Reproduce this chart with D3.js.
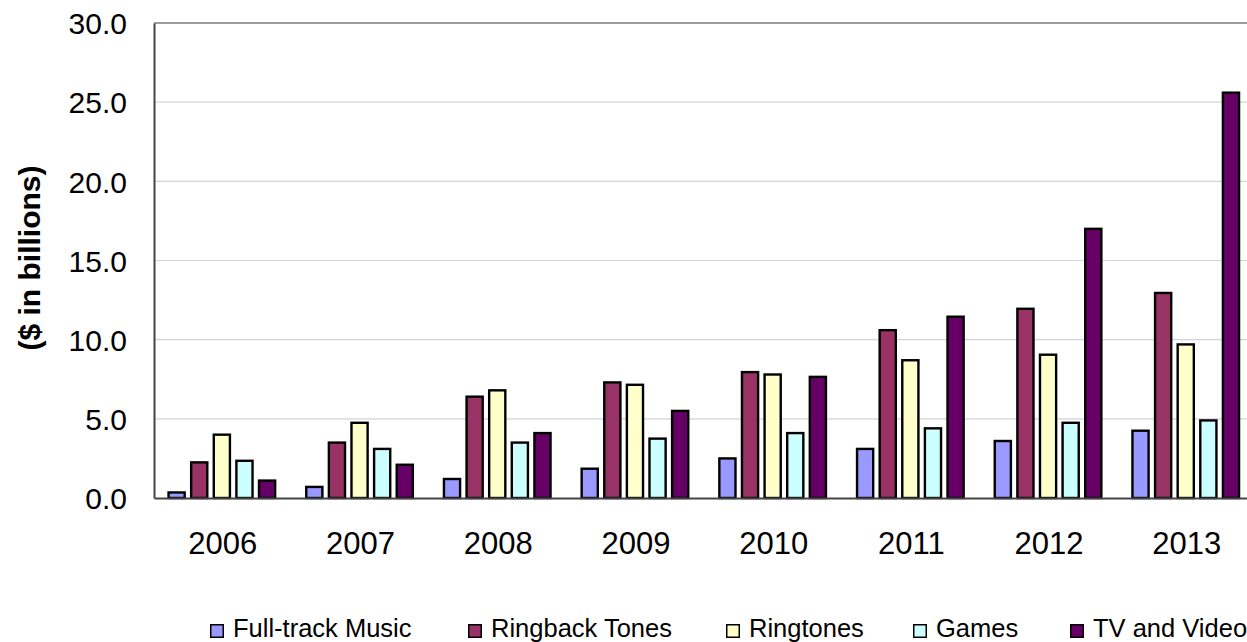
<!DOCTYPE html>
<html>
<head>
<meta charset="utf-8">
<script src="https://cdn.jsdelivr.net/npm/d3@7"></script>
<style>
  body { margin: 0; background: #fff; }
  svg { display: block; font-family: Arial, "Liberation Sans", sans-serif; }
</style>
</head>
<body>
<svg id="chart" width="1247" height="642"></svg>
<script>
// data
var years = ["2006", "2007", "2008", "2009", "2010", "2011", "2012", "2013"];
var seriesNames = ["Full-track Music", "Ringback Tones", "Ringtones", "Games", "TV and Video"];
var seriesColors = ["#9999FF", "#993366", "#FFFFCC", "#CCFFFF", "#660066"];
var fullTrack = [0.35, 0.7, 1.2, 1.85, 2.5, 3.1, 3.6, 4.25];
var ringback = [2.25, 3.5, 6.4, 7.3, 7.95, 10.6, 11.95, 12.95];
var ringtones = [4.0, 4.75, 6.8, 7.15, 7.8, 8.7, 9.05, 9.7];
var games = [2.35, 3.1, 3.5, 3.75, 4.1, 4.4, 4.75, 4.9];
var tvVideo = [1.1, 2.1, 4.1, 5.5, 7.65, 11.45, 17.0, 25.6];
var yTicks = [0, 5, 10, 15, 20, 25, 30];

var allSeries = [fullTrack, ringback, ringtones, games, tvVideo];

var svg = d3.select("#chart");

var plotLeft = 154, plotTop = 23, plotBottom = 498;
var bandStep = 137.7;

var x = d3.scaleBand()
  .domain(years)
  .range([plotLeft, plotLeft + bandStep * years.length]);

var groupWidth = 109;
var xInner = d3.scaleBand()
  .domain(seriesNames)
  .range([-groupWidth / 2 - 1, groupWidth / 2 - 1])
  .paddingInner(0.18);

var y = d3.scaleLinear().domain([0, 30]).range([plotBottom, plotTop]);

// gridlines
svg.append("g")
  .selectAll("line")
  .data(yTicks.filter(function (d) { return d > 0 && d < 30; }))
  .join("line")
  .attr("x1", plotLeft)
  .attr("x2", 1247)
  .attr("y1", function (d) { return y(d); })
  .attr("y2", function (d) { return y(d); })
  .style("stroke", "#d4d4d4")
  .style("stroke-width", 1.2);

// top border of plot area
svg.append("line")
  .attr("x1", plotLeft).attr("x2", 1247)
  .attr("y1", y(30)).attr("y2", y(30))
  .style("stroke", "#7a7a7a")
  .style("stroke-width", 1.5);

// bars
var rows = [];
years.forEach(function (yr, i) {
  seriesNames.forEach(function (s, j) {
    rows.push({ year: yr, series: s, value: allSeries[j][i], color: seriesColors[j] });
  });
});

svg.append("g")
  .selectAll("rect")
  .data(rows)
  .join("rect")
  .attr("x", function (d) { return x(d.year) + x.bandwidth() / 2 + xInner(d.series) + 1.2; })
  .attr("width", xInner.bandwidth() - 2.4)
  .attr("y", function (d) { return y(d.value); })
  .attr("height", function (d) { return y(0) - y(d.value); })
  .style("fill", function (d) { return d.color; })
  .style("stroke", "#000")
  .style("stroke-width", 2.4);

// y axis
var yAxis = svg.append("g")
  .attr("transform", "translate(" + plotLeft + ",0)")
  .call(d3.axisLeft(y).tickValues(yTicks).tickFormat(d3.format(".1f")).tickSize(0).tickPadding(27));
yAxis.select(".domain").style("stroke", "#444").style("stroke-width", 2);
yAxis.selectAll("text")
  .style("font-size", "30px")
  .style("fill", "#000")
  .attr("dy", "0.36em");

// x axis
var xAxis = svg.append("g")
  .attr("transform", "translate(0," + plotBottom + ")")
  .call(d3.axisBottom(x).tickSize(0).tickPadding(34));
xAxis.select(".domain").style("stroke", "#444").style("stroke-width", 2);
xAxis.selectAll("text")
  .style("font-size", "31px")
  .style("fill", "#000");

// y title
svg.append("text")
  .attr("transform", "translate(40,258) rotate(-90)")
  .attr("text-anchor", "middle")
  .style("font-size", "30px")
  .style("font-weight", "bold")
  .text("($ in billions)");

// legend
var legendX = [210, 468, 726, 913, 1070];
var legend = svg.append("g")
  .selectAll("g")
  .data(seriesNames)
  .join("g")
  .attr("transform", function (d, i) { return "translate(" + legendX[i] + ",624)"; });

legend.append("rect")
  .attr("x", 0.75)
  .attr("y", 0.75)
  .attr("width", 12.5)
  .attr("height", 12.5)
  .style("fill", function (d, i) { return seriesColors[i]; })
  .style("stroke", "#000")
  .style("stroke-width", 1.5);

legend.append("text")
  .attr("x", 23)
  .attr("y", 13)
  .style("font-size", "25.5px")
  .text(function (d) { return d; });
</script>
</body>
</html>
